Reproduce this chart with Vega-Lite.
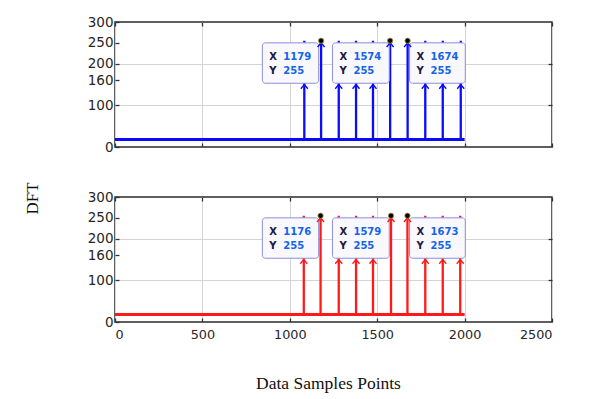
{
  "$schema": "https://vega.github.io/schema/vega-lite/v6.json",
  "background": "white",
  "padding": {"left": 22, "top": 14, "right": 10, "bottom": 5},
  "bounds": "flush",
  "spacing": 50,
  "config": {
    "view": {"stroke": "#2b2b2b", "strokeWidth": 1.5},
    "axis": {"labelFont": "DejaVu Sans", "labelColor": "#262626", "labelFontSize": 13.5, "domain": false, "tickColor": "#333333", "tickWidth": 1.3, "gridColor": "#d4d4d4", "gridWidth": 1, "titleColor": "#111111", "titleFont": "Liberation Serif", "titleFontWeight": "normal"},
    "text": {"font": "DejaVu Sans", "fontWeight": "bold", "fontSize": 10}
  },
  "datasets": {
    "base": [
      {"panel": "top", "x": 0, "x2": 2000, "y": 18},
      {"panel": "bottom", "x": 0, "x2": 2000, "y": 18}
    ],
    "stems": [
      {"panel": "top", "x": 1083, "y": 255}, {"panel": "top", "x": 1179, "y": 255}, {"panel": "top", "x": 1280, "y": 255},
      {"panel": "top", "x": 1379, "y": 255}, {"panel": "top", "x": 1476, "y": 255}, {"panel": "top", "x": 1574, "y": 255},
      {"panel": "top", "x": 1674, "y": 255}, {"panel": "top", "x": 1775, "y": 255}, {"panel": "top", "x": 1875, "y": 255},
      {"panel": "top", "x": 1978, "y": 255},
      {"panel": "bottom", "x": 1080, "y": 255}, {"panel": "bottom", "x": 1176, "y": 255}, {"panel": "bottom", "x": 1280, "y": 255},
      {"panel": "bottom", "x": 1379, "y": 255}, {"panel": "bottom", "x": 1476, "y": 255}, {"panel": "bottom", "x": 1579, "y": 255},
      {"panel": "bottom", "x": 1673, "y": 255}, {"panel": "bottom", "x": 1775, "y": 255}, {"panel": "bottom", "x": 1875, "y": 255},
      {"panel": "bottom", "x": 1975, "y": 255}
    ],
    "arrows": [
      {"panel": "top", "x": 1083, "y": 150}, {"panel": "top", "x": 1179, "y": 250}, {"panel": "top", "x": 1280, "y": 150},
      {"panel": "top", "x": 1379, "y": 150}, {"panel": "top", "x": 1476, "y": 150}, {"panel": "top", "x": 1574, "y": 250},
      {"panel": "top", "x": 1674, "y": 250}, {"panel": "top", "x": 1775, "y": 150}, {"panel": "top", "x": 1875, "y": 150},
      {"panel": "top", "x": 1978, "y": 150},
      {"panel": "bottom", "x": 1080, "y": 150}, {"panel": "bottom", "x": 1176, "y": 250}, {"panel": "bottom", "x": 1280, "y": 150},
      {"panel": "bottom", "x": 1379, "y": 150}, {"panel": "bottom", "x": 1476, "y": 150}, {"panel": "bottom", "x": 1579, "y": 250},
      {"panel": "bottom", "x": 1673, "y": 250}, {"panel": "bottom", "x": 1775, "y": 150}, {"panel": "bottom", "x": 1875, "y": 150},
      {"panel": "bottom", "x": 1975, "y": 150}
    ],
    "tips": [
      {"panel": "top", "x": 1179, "y": 255, "left": 843, "right": 1165, "top": 250, "bottom": 153},
      {"panel": "top", "x": 1574, "y": 255, "left": 1244, "right": 1569, "top": 250, "bottom": 153},
      {"panel": "top", "x": 1674, "y": 255, "left": 1685, "right": 2004, "top": 250, "bottom": 153},
      {"panel": "bottom", "x": 1176, "y": 255, "left": 843, "right": 1165, "top": 250, "bottom": 153},
      {"panel": "bottom", "x": 1579, "y": 255, "left": 1244, "right": 1569, "top": 250, "bottom": 153},
      {"panel": "bottom", "x": 1673, "y": 255, "left": 1685, "right": 2004, "top": 250, "bottom": 153}
    ]
  },
  "vconcat": [
    {
      "width": 437,
      "height": 125,
      "resolve": {"axis": {"x": "independent", "y": "independent"}},
      "layer": [
        {
          "data": {"name": "base"},
          "transform": [{"filter": "datum.panel == 'top'"}],
          "mark": {"type": "rule", "color": "#0a0aff", "strokeWidth": 3},
          "encoding": {
            "x": {"field": "x", "type": "quantitative", "scale": {"domain": [0, 2500], "nice": false},
                  "axis": {"orient": "bottom", "values": [0, 500, 1000, 1500, 2000, 2500], "grid": true, "labels": false, "tickSize": -4, "title": null}},
            "x2": {"field": "x2"},
            "y": {"field": "y", "type": "quantitative", "scale": {"domain": [0, 300], "nice": false},
                  "axis": {"orient": "left", "values": [0, 100, 160, 200, 250, 300], "format": "d", "grid": false, "tickSize": -4, "labelPadding": 6, "title": null}}
          }
        },
        {
          "data": {"name": "stems"},
          "transform": [{"filter": "datum.panel == 'top'"}],
          "mark": {"type": "rule", "color": "#0a0aff", "strokeWidth": 2.3},
          "encoding": {
            "x": {"field": "x", "type": "quantitative",
                  "axis": {"orient": "top", "values": [0, 500, 1000, 1500, 2000, 2500], "grid": false, "labels": false, "tickSize": -4, "title": null}},
            "y": {"field": "y", "type": "quantitative",
                  "axis": {"orient": "right", "values": [100, 200], "grid": true, "labels": false, "tickSize": -4, "title": null}},
            "y2": {"datum": 18}
          }
        },
        {
          "data": {"name": "tips"},
          "transform": [{"filter": "datum.panel == 'top'"}],
          "mark": {"type": "rect", "fill": "#f8f8fd", "stroke": "#8c8fd8", "strokeWidth": 1, "cornerRadius": 3},
          "encoding": {
            "x": {"field": "left", "type": "quantitative", "axis": null},
            "x2": {"field": "right"},
            "y": {"field": "top", "type": "quantitative", "axis": null},
            "y2": {"field": "bottom"}
          }
        },
        {
          "data": {"name": "arrows"},
          "transform": [{"filter": "datum.panel == 'top'"}],
          "mark": {"type": "point", "shape": "M-1,1.2L0,0L1,1.2", "size": 49, "filled": false, "stroke": "#0a0aff", "strokeWidth": 1.4, "opacity": 1},
          "encoding": {
            "x": {"field": "x", "type": "quantitative", "axis": null},
            "y": {"field": "y", "type": "quantitative", "axis": null}
          }
        },
        {
          "data": {"name": "tips"},
          "transform": [{"filter": "datum.panel == 'top'"}],
          "mark": {"type": "point", "filled": true, "size": 28, "fill": "#000000", "stroke": "#a8a030", "strokeWidth": 0.8, "opacity": 1},
          "encoding": {
            "x": {"field": "x", "type": "quantitative", "axis": null},
            "y": {"field": "y", "type": "quantitative", "axis": null}
          }
        },
        {
          "data": {"name": "tips"},
          "transform": [{"filter": "datum.panel == 'top'"}],
          "mark": {"type": "text", "text": "X", "align": "left", "baseline": "middle", "dx": 7, "dy": 14, "color": "#1a1a40"},
          "encoding": {
            "x": {"field": "left", "type": "quantitative", "axis": null},
            "y": {"field": "top", "type": "quantitative", "axis": null}
          }
        },
        {
          "data": {"name": "tips"},
          "transform": [{"filter": "datum.panel == 'top'"}],
          "mark": {"type": "text", "align": "left", "baseline": "middle", "dx": 21, "dy": 14, "color": "#1464e6"},
          "encoding": {
            "text": {"field": "x", "type": "quantitative", "format": "d"},
            "x": {"field": "left", "type": "quantitative", "axis": null},
            "y": {"field": "top", "type": "quantitative", "axis": null}
          }
        },
        {
          "data": {"name": "tips"},
          "transform": [{"filter": "datum.panel == 'top'"}],
          "mark": {"type": "text", "text": "Y", "align": "left", "baseline": "middle", "dx": 7, "dy": 28, "color": "#1a1a40"},
          "encoding": {
            "x": {"field": "left", "type": "quantitative", "axis": null},
            "y": {"field": "top", "type": "quantitative", "axis": null}
          }
        },
        {
          "data": {"name": "tips"},
          "transform": [{"filter": "datum.panel == 'top'"}],
          "mark": {"type": "text", "align": "left", "baseline": "middle", "dx": 21, "dy": 28, "color": "#1464e6"},
          "encoding": {
            "text": {"field": "y", "type": "quantitative", "format": "d"},
            "x": {"field": "left", "type": "quantitative", "axis": null},
            "y": {"field": "top", "type": "quantitative", "axis": null}
          }
        }
      ]
    },
    {
      "width": 437,
      "height": 125,
      "resolve": {"axis": {"x": "independent", "y": "independent"}},
      "layer": [
        {
          "data": {"name": "base"},
          "transform": [{"filter": "datum.panel == 'bottom'"}],
          "mark": {"type": "rule", "color": "#ff1a1a", "strokeWidth": 3},
          "encoding": {
            "x": {"field": "x", "type": "quantitative", "scale": {"domain": [0, 2500], "nice": false},
                  "axis": {"orient": "bottom", "values": [0, 500, 1000, 1500, 2000, 2500], "format": "d", "grid": true, "labels": true, "labelFontSize": 12.8, "tickSize": -4, "labelPadding": 10,
                           "title": "Data Samples Points", "titleFontSize": 17.5, "titleX": 213, "titleY": 66, "titleBaseline": "alphabetic", "titleAlign": "center"}},
            "x2": {"field": "x2"},
            "y": {"field": "y", "type": "quantitative", "scale": {"domain": [0, 300], "nice": false},
                  "axis": {"orient": "left", "values": [0, 100, 160, 200, 250, 300], "format": "d", "grid": false, "tickSize": -4, "labelPadding": 6,
                           "title": "DFT", "titleFontSize": 17, "titleAngle": 270, "titleX": -83, "titleY": 1, "titleAlign": "center", "titleBaseline": "middle"}}
          }
        },
        {
          "data": {"name": "stems"},
          "transform": [{"filter": "datum.panel == 'bottom'"}],
          "mark": {"type": "rule", "color": "#ff1a1a", "strokeWidth": 2.3},
          "encoding": {
            "x": {"field": "x", "type": "quantitative",
                  "axis": {"orient": "top", "values": [0, 500, 1000, 1500, 2000, 2500], "grid": false, "labels": false, "tickSize": -4, "title": null}},
            "y": {"field": "y", "type": "quantitative",
                  "axis": {"orient": "right", "values": [100, 200], "grid": true, "labels": false, "tickSize": -4, "title": null}},
            "y2": {"datum": 18}
          }
        },
        {
          "data": {"name": "tips"},
          "transform": [{"filter": "datum.panel == 'bottom'"}],
          "mark": {"type": "rect", "fill": "#f8f8fd", "stroke": "#8c8fd8", "strokeWidth": 1, "cornerRadius": 3},
          "encoding": {
            "x": {"field": "left", "type": "quantitative", "axis": null},
            "x2": {"field": "right"},
            "y": {"field": "top", "type": "quantitative", "axis": null},
            "y2": {"field": "bottom"}
          }
        },
        {
          "data": {"name": "arrows"},
          "transform": [{"filter": "datum.panel == 'bottom'"}],
          "mark": {"type": "point", "shape": "M-1,1.2L0,0L1,1.2", "size": 49, "filled": false, "stroke": "#ff1a1a", "strokeWidth": 1.4, "opacity": 1},
          "encoding": {
            "x": {"field": "x", "type": "quantitative", "axis": null},
            "y": {"field": "y", "type": "quantitative", "axis": null}
          }
        },
        {
          "data": {"name": "tips"},
          "transform": [{"filter": "datum.panel == 'bottom'"}],
          "mark": {"type": "point", "filled": true, "size": 28, "fill": "#000000", "stroke": "#a8a030", "strokeWidth": 0.8, "opacity": 1},
          "encoding": {
            "x": {"field": "x", "type": "quantitative", "axis": null},
            "y": {"field": "y", "type": "quantitative", "axis": null}
          }
        },
        {
          "data": {"name": "tips"},
          "transform": [{"filter": "datum.panel == 'bottom'"}],
          "mark": {"type": "text", "text": "X", "align": "left", "baseline": "middle", "dx": 7, "dy": 14, "color": "#1a1a40"},
          "encoding": {
            "x": {"field": "left", "type": "quantitative", "axis": null},
            "y": {"field": "top", "type": "quantitative", "axis": null}
          }
        },
        {
          "data": {"name": "tips"},
          "transform": [{"filter": "datum.panel == 'bottom'"}],
          "mark": {"type": "text", "align": "left", "baseline": "middle", "dx": 21, "dy": 14, "color": "#1464e6"},
          "encoding": {
            "text": {"field": "x", "type": "quantitative", "format": "d"},
            "x": {"field": "left", "type": "quantitative", "axis": null},
            "y": {"field": "top", "type": "quantitative", "axis": null}
          }
        },
        {
          "data": {"name": "tips"},
          "transform": [{"filter": "datum.panel == 'bottom'"}],
          "mark": {"type": "text", "text": "Y", "align": "left", "baseline": "middle", "dx": 7, "dy": 28, "color": "#1a1a40"},
          "encoding": {
            "x": {"field": "left", "type": "quantitative", "axis": null},
            "y": {"field": "top", "type": "quantitative", "axis": null}
          }
        },
        {
          "data": {"name": "tips"},
          "transform": [{"filter": "datum.panel == 'bottom'"}],
          "mark": {"type": "text", "align": "left", "baseline": "middle", "dx": 21, "dy": 28, "color": "#1464e6"},
          "encoding": {
            "text": {"field": "y", "type": "quantitative", "format": "d"},
            "x": {"field": "left", "type": "quantitative", "axis": null},
            "y": {"field": "top", "type": "quantitative", "axis": null}
          }
        }
      ]
    }
  ]
}
